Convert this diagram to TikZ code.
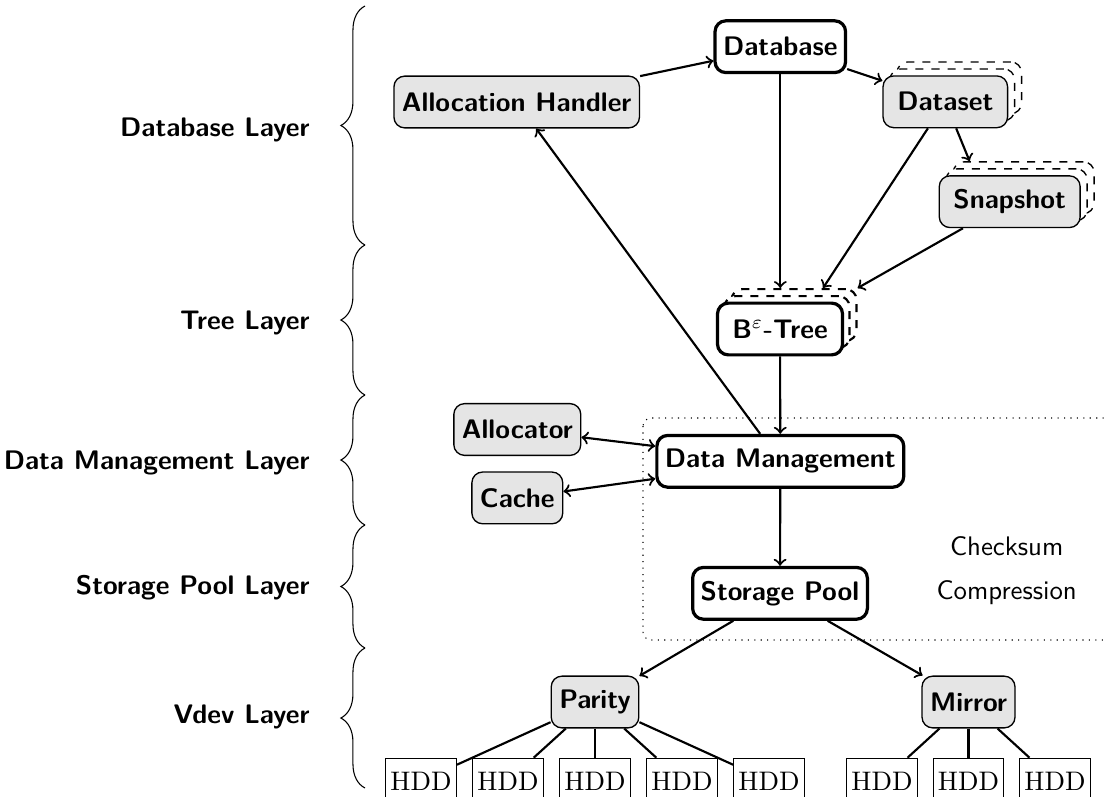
\documentclass[tikz,border=0pt]{standalone}
\usetikzlibrary{decorations.pathreplacing}
\tikzset{
  boxbase/.style={rounded corners=4pt, minimum height=19.3pt, font=\sffamily\bfseries, inner xsep=3pt, inner ysep=2pt},
  mainbox/.style={boxbase, draw, very thick, fill=white},
  graybox/.style={boxbase, draw, line width=0.5pt, fill=gray!20},
  stackgray/.style={graybox, inner xsep=5.3pt},
  stackmain/.style={mainbox, inner xsep=5.5pt},
  copygray/.style={stackgray, dashed, fill=white},
  copymain/.style={stackmain, thick, dashed, fill=white},
  hdd/.style={draw, font=\rmfamily, inner xsep=1.8pt, minimum height=17pt},
  arr/.style={->, thick},
  biarr/.style={<->, thick},
  link/.style={thick},
  layer/.style={anchor=base east, inner sep=0pt, font=\sffamily\bfseries},
  note/.style={anchor=base, font=\sffamily},
  bracestyle/.style={decorate, decoration={brace, amplitude=9pt}},
}
\begin{document}
\begin{tikzpicture}[x=0.373pt, y=-0.373pt]
\useasboundingbox (0,0) rectangle (1104,796);
\clip (0,0) rectangle (1104,796);

% layer labels
\node[layer] (l1) at (310,136) {Database Layer};
\node[layer] (l2) at (310,329) {Tree Layer};
\node[layer] (l3) at (310,469) {Data Management Layer};
\node[layer] (l4) at (310,594) {Storage Pool Layer};
\node[layer] (l5) at (310,723) {Vdev Layer};

% braces
\draw[bracestyle] (365,245) -- (365,6);
\draw[bracestyle] (365,395) -- (365,245);
\draw[bracestyle] (365,525) -- (365,395);
\draw[bracestyle] (365,648) -- (365,525);
\draw[bracestyle] (365,788) -- (365,648);

% dotted frame
\draw[dotted, rounded corners=3pt] (643,418) rectangle (1140,640);
\node[note] (chk) at (1006.7,555) {Checksum};
\node[note] (cmp) at (1006.7,599) {Compression};

% database layer
\node[mainbox] (db) at (780.3,46.7) {Database};
\node[graybox] (ah) at (516.7,102) {Allocation Handler};

\node[copygray] (dsS2) at (959.3,87.8) {\phantom{Dataset}};
\node[copygray] (dsS1) at (952.3,94.8) {\phantom{Dataset}};
\node[stackgray] (ds) at (945.3,101.8) {Dataset};

\node[copygray] (snS2) at (1023.7,187.7) {\phantom{Snapshot}};
\node[copygray] (snS1) at (1016.7,194.7) {\phantom{Snapshot}};
\node[stackgray] (sn) at (1009.7,201.7) {Snapshot};

% tree layer
\node[copymain] (btS2) at (794,315) {\phantom{B$^\varepsilon$-Tree}};
\node[copymain] (btS1) at (787,322) {\phantom{B$^\varepsilon$-Tree}};
\node[stackmain] (bt) at (780,329) {B$^\varepsilon$-Tree};

% data management layer
\node[mainbox] (dm) at (780.3,461.3) {Data Management};
\node[graybox] (alloc) at (517.3,429.5) {Allocator};
\node[graybox] (cache) at (517.3,497.9) {Cache};

% storage pool layer
\node[mainbox] (sp) at (780,593.3) {Storage Pool};

% vdev layer
\node[graybox] (parity) at (595,702) {Parity};
\node[graybox] (mirror) at (968.5,702) {Mirror};

\node[hdd] (h1) at (421,781) {HDD};
\node[hdd] (h2) at (508,781) {HDD};
\node[hdd] (h3) at (595,781) {HDD};
\node[hdd] (h4) at (682,781) {HDD};
\node[hdd] (h5) at (769,781) {HDD};
\node[hdd] (m1) at (882,781) {HDD};
\node[hdd] (m2) at (968.5,781) {HDD};
\node[hdd] (m3) at (1055,781) {HDD};

% connectors
\draw[arr] (ah) -- (db);
\draw[arr] (db) -- (ds);
\draw[arr] (ds) -- ([shift={(17,0)}]snS2.north west);
\draw[arr] (db) -- (db |- btS2.north);
\draw[arr] (ds) -- ([shift={(29,0)}]btS2.north);
\draw[arr] (sn) -- (btS2.north east);
\draw[arr] (bt) -- (dm);
\draw[arr] (dm) -- (ah);
\draw[biarr] (alloc) -- (dm);
\draw[biarr] (cache) -- (dm);
\draw[arr] (dm) -- (sp);
\draw[arr] (sp) -- (parity);
\draw[arr] (sp) -- (mirror);

\foreach \h in {h1,h2,h3,h4,h5} \draw[link] (parity) -- (\h);
\foreach \h in {m1,m2,m3} \draw[link] (mirror) -- (\h);
\end{tikzpicture}
\end{document}
